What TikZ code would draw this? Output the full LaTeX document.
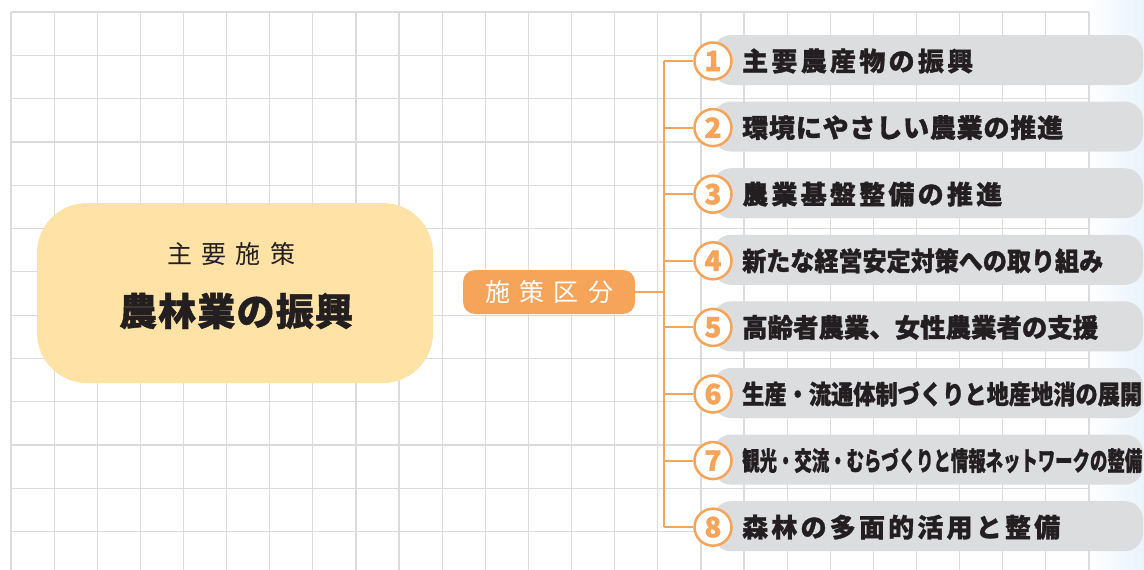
\documentclass[tikz,border=0pt]{standalone}
\usepackage{fontspec}
\usepackage{graphicx}
\newfontfamily\jp{Noto Sans CJK JP}[BoldFeatures={FakeBold=1.2}]
\definecolor{gridc}{HTML}{DCDCDC}
\definecolor{barc}{HTML}{DCDDDF}
\definecolor{orc}{HTML}{F6A45A}
\definecolor{boxc}{HTML}{FEE2A6}
\definecolor{txtc}{HTML}{231F20}
\definecolor{bluec}{HTML}{EAF3FC}
\def\sprA#1{#1\sprB}
\def\sprB#1{\ifx#1\relax\else\hfil#1\expandafter\sprB\fi}
\newsavebox\fitbox
\newcommand\fitto[2]{\sbox\fitbox{#2}\ifdim\wd\fitbox<#1\relax\hbox to #1{\expandafter\sprA#2\relax}\else\pgfmathsetmacro\fitsx{#1/\wd\fitbox}\scalebox{\fitsx}[1]{\usebox\fitbox}\fi}
\tikzset{
  gridline/.style={draw=gridc, line width=1.2pt},
  mainbox/.style={fill=boxc, rounded corners=50pt, minimum width=396pt, minimum height=180pt, inner sep=0pt},
  labelbox/.style={fill=orc, rounded corners=12pt, minimum width=172pt, minimum height=44pt, inner sep=0pt, text=white, font=\jp\fontsize{25}{25}\selectfont},
  barbox/.style={fill=barc, rounded corners=18pt, minimum width=430pt, minimum height=50pt, inner sep=0pt},
  numc/.style={circle, draw=orc, line width=2.5pt, fill=white, minimum size=37pt, inner sep=0pt, text=orc, font=\jp\bfseries\fontsize{28}{28}\selectfont},
  bartext/.style={anchor=west, inner sep=0pt, text=txtc, font=\jp\bfseries\fontsize{26}{26}\selectfont},
  conn/.style={draw=orc, line width=2pt},
}
\begin{document}
\begin{tikzpicture}[x=1pt, y=-1pt]
\useasboundingbox (0,0) rectangle (1144,570);
\fill[white] (0,0) rectangle (1144,570);
\shade[left color=white, right color=bluec] (1089,0) rectangle (1144,570);
\begin{scope}
\clip (0,0) rectangle (1144,570);
\foreach \k in {0,...,25} \draw[gridline] ({11+43.12*\k},12) -- ({11+43.12*\k},575);
\foreach \k in {0,...,13} \draw[gridline] (11,{12+43.3*\k}) -- (1089,{12+43.3*\k});
\end{scope}
% main box
\node[mainbox] (main) at (235,293) {};
\node[inner sep=0pt, text=txtc, font=\jp\fontsize{25}{25}\selectfont] (sub) at (231,254) {\fitto{128pt}{主要施策}};
\node[inner sep=0pt, text=txtc, font=\jp\bfseries\fontsize{38}{38}\selectfont] (title) at (236,311) {\fitto{234pt}{農林業の振興}};
% label
\node[labelbox] (lab) at (549,292) {\fitto{128pt}{施策区分}};
% rows
\foreach \i/\t/\w in {1/主要農産物の振興/231pt,2/環境にやさしい農業の推進/321pt,3/農業基盤整備の推進/260pt,4/新たな経営安定対策への取り組み/361pt,5/高齢者農業、女性農業者の支援/356pt,6/生産・流通体制づくりと地産地消の展開/400pt,7/観光・交流・むらづくりと情報ネットワークの整備/400pt,8/森林の多面的活用と整備/318pt}{
  \pgfmathsetmacro\yy{61+66.6*(\i-1)}
  \node[barbox] (b\i) at (928,\yy-1) {};
  \coordinate (j\i) at (664,\yy);
  \node[numc] (c\i) at (713,\yy) {\i};
  \node[bartext] (t\i) at (742,\yy) {\fitto{\w}{\t}};
}
\draw[conn] (j1) -- (j8);
\foreach \i in {1,...,8} \draw[conn] (j\i) -- (c\i.west);
\draw[conn] (lab.east) -- (lab.east -| j1);
\end{tikzpicture}
\end{document}
